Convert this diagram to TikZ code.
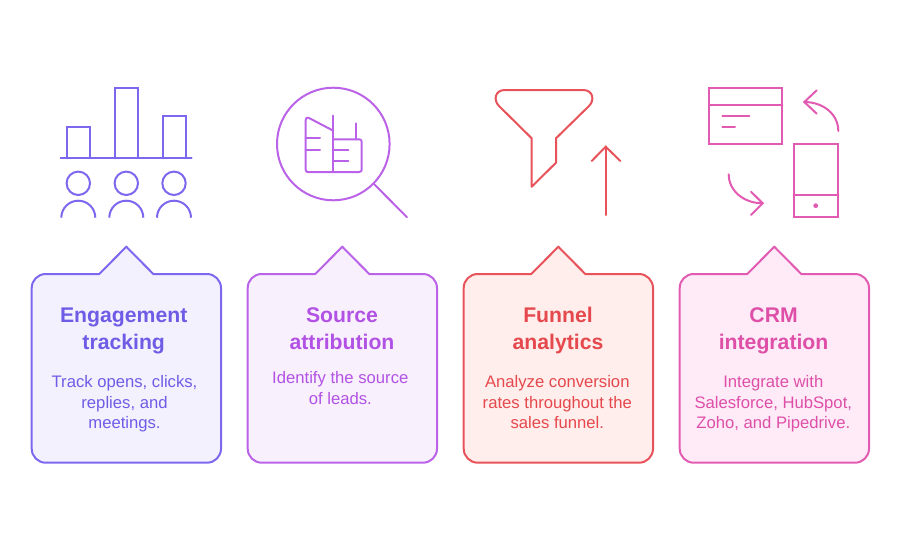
\documentclass[tikz,border=0pt]{standalone}
\usepackage{fontspec}
\setmainfont{Liberation Sans}

\definecolor{violetline}{HTML}{7C68EE}
\definecolor{violetfill}{HTML}{F3F1FE}
\definecolor{violettext}{HTML}{6F5CE6}
\definecolor{purpleline}{HTML}{BA62E8}
\definecolor{purplefill}{HTML}{F9F0FE}
\definecolor{purpletext}{HTML}{B252E4}
\definecolor{redline}{HTML}{E8525A}
\definecolor{redfill}{HTML}{FFEEEC}
\definecolor{redtext}{HTML}{E5484D}
\definecolor{pinkline}{HTML}{E25BB2}
\definecolor{pinkfill}{HTML}{FEEBF7}
\definecolor{pinktext}{HTML}{DE4FA8}

\tikzset{
  icon/.style={line width=1.5pt, line cap=round, line join=miter},
  cardbox/.style={line width=1.5pt, line join=round},
  cardtitle/.style={align=center, font=\fontsize{15.9}{20}\selectfont\bfseries, inner sep=0pt},
  cardtext/.style={align=center, font=\fontsize{12.5}{15.3}\selectfont, inner sep=0pt}
}

\begin{document}
\begin{tikzpicture}[x=0.75pt, y=-0.75pt]
  \useasboundingbox (0,0) rectangle (900,550);

  % Draw the four cards
  \foreach \dx/\tx/\tone/\cardname/\titletext in {
    0/123.7/violet/engagement/{Engagement\\\strut tracking},
    216/342/purple/source/{Source\\\strut attribution},
    432/558/red/funnel/{Funnel\\\strut analytics},
    648/773.6/pink/crm/{CRM\\\strut integration}} {
    \begin{scope}[xshift=\dx*0.75pt]
      \draw[cardbox, draw=\tone line, fill=\tone fill]
        (126.3,246.7) -- (99.3,274) [rounded corners=10.5pt] -- (31.7,274) -- (31.7,462.7)
        -- (221,462.7) -- (221,274) [sharp corners] -- (153.3,274) -- cycle;
    \end{scope}
    \node[cardtitle, text=\tone text] (title-\cardname) at (\tx,330.7) {\strut\titletext};
  }

  % Body text of the cards
  \node[cardtext, text=violettext] (text-engagement) at (124.5,404) {\strut Track opens, clicks,\\replies, and\\\strut meetings.};
  \node[cardtext, text=purpletext] (text-source) at (340.3,389.8) {\strut Identify the source\\\strut of leads.};
  \node[cardtext, text=redtext] (text-funnel) at (557.3,404) {\strut Analyze conversion\\rates throughout the\\\strut sales funnel.};
  \node[cardtext, text=pinktext] (text-crm) at (773.3,404) {\strut Integrate with\\Salesforce, HubSpot,\\\strut Zoho, and Pipedrive.};

  % Draw the bars and the people
  \draw[icon, violetline] (67.3,158.3) -- (67.3,127.3) -- (90,127.3) -- (90,158.3);
  \draw[icon, violetline] (115,158.3) -- (115,88) -- (137.7,88) -- (137.7,158.3);
  \draw[icon, violetline] (162.7,158.3) -- (162.7,116) -- (185.7,116) -- (185.7,158.3);
  \draw[icon, violetline] (60.7,158.3) -- (191.7,158.3);
  \foreach \px in {78.3,126.3,174} {
    \draw[icon, violetline] (\px,183.3) circle[radius=11.7];
    \draw[icon, violetline, line cap=butt] (\px-17,217.7) arc[start angle=180, end angle=360, radius=17];
  }

  % Draw the magnifier with the building
  \draw[icon, purpleline] (333.3,144) circle[radius=56.3];
  \draw[icon, purpleline] (374,184) -- (407,217.3);
  \draw[icon, purpleline, line join=round]
    (333.3,130.7) -- (309,118) .. controls (307,117) and (305.7,118) .. (305.7,120)
    -- (305.7,169.5) .. controls (305.7,171.5) and (306.5,172) .. (308,172)
    -- (359,172) .. controls (361,172) and (361.7,171) .. (361.7,169.5)
    -- (361.7,142) .. controls (361.7,140) and (361,139.3) .. (359,139.3) -- (333.3,139.3);
  \draw[icon, purpleline] (333.3,115.7) -- (333.3,172);
  \draw[icon, purpleline] (356,123.3) -- (356,139.3);
  \foreach \ly in {138.3,149.7} {
    \draw[icon, purpleline] (305.7,\ly) -- (320,\ly);
  }
  \foreach \ly in {149.7,160.7} {
    \draw[icon, purpleline] (333.3,\ly) -- (348.3,\ly);
  }

  % Draw the funnel and its arrow
  \draw[icon, redline, line join=round]
    (531.7,138.3) -- (499,106) .. controls (493,100) and (495,90) .. (505,90)
    -- (583,90) .. controls (593,90) and (595,100) .. (589,106)
    -- (556,138.3) -- (556,162.7) -- (531.7,186.7) -- cycle;
  \draw[icon, redline] (605.7,215) -- (605.7,146.7);
  \draw[icon, redline] (591.7,161) -- (605.7,146.7) -- (620.3,161);

  % Draw the window, the phone and the two arrows
  \draw[icon, pinkline] (709,88) rectangle (782.3,144);
  \draw[icon, pinkline] (709,104.7) -- (782.3,104.7);
  \draw[icon, pinkline] (722.3,116) -- (749.3,116);
  \draw[icon, pinkline] (722.3,127.3) -- (735,127.3);
  \draw[icon, pinkline] (793.7,144) rectangle (838.3,217);
  \draw[icon, pinkline] (793.7,194.7) -- (838.3,194.7);
  \fill[pinkline] (815.7,205.7) circle[radius=2.4];
  \draw[icon, pinkline] (838.3,131) .. controls (838.3,114) and (823,102) .. (804.3,102);
  \draw[icon, pinkline] (816.7,90.3) -- (804.3,102) -- (816.7,113.7);
  \draw[icon, pinkline] (728.7,174.3) .. controls (728.7,191) and (744,203.3) .. (762.7,203.3);
  \draw[icon, pinkline] (751,191.7) -- (762.7,203.3) -- (751,215);
\end{tikzpicture}
\end{document}
